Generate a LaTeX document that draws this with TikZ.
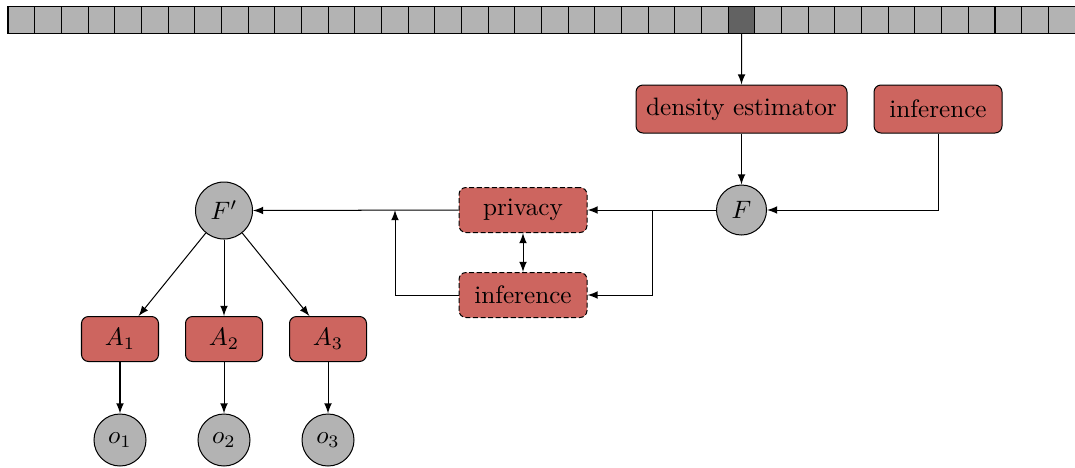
\documentclass[tikz,border=0pt]{standalone}
\usetikzlibrary{arrows}
\newdimen\pxu
\pxu=0.397pt
\definecolor{boxred}{RGB}{205,101,95}
\definecolor{cellgray}{RGB}{179,179,179}
\definecolor{celldark}{RGB}{98,98,98}
\begin{document}
\begin{tikzpicture}[x=\pxu,y=-\pxu,
  cellbox/.style={draw=black,fill=cellgray,inner sep=0pt,
    minimum width=26.675\pxu,minimum height=26.5\pxu},
  procbox/.style={draw=black,fill=boxred,rounded corners=7\pxu,
    inner sep=0pt,minimum height=48\pxu},
  dashbox/.style={procbox,dash pattern=on 2pt off 1pt,minimum height=45\pxu},
  abox/.style={procbox,minimum width=77\pxu,minimum height=45\pxu},
  var/.style={draw=black,fill=cellgray,circle,inner sep=0pt},
  flow/.style={-latex},
]
\useasboundingbox (0,0) rectangle (1075,467);

% memory strip of 40 cells, one highlighted
\foreach \i in {0,...,39}{
  \node[cellbox] (cell\i) at ({8+13.3375+\i*26.675},19.75) {};
}
\node[cellbox,fill=celldark] (cell27) at ({8+13.3375+27*26.675},19.75) {};

% upper processing row
\node[procbox,minimum width=211\pxu] (dens) at (741.5,109) {density estimator};
\node[procbox,minimum width=128\pxu] (inftop) at (938,109) {inference};
\node[var,minimum size=50\pxu] (F) at (741.5,210) {$F$};

% privacy / inference pair
\node[dashbox,minimum width=128\pxu] (priv) at (523,210) {privacy};
\node[dashbox,minimum width=128\pxu] (infmid) at (523,295) {inference};

% released variable and downstream consumers
\node[var,minimum size=57\pxu] (Fp) at (224,210.5) {$F'$};
\node[abox] (A1) at (120,339) {$A_1$};
\node[abox] (A2) at (224,339) {$A_2$};
\node[abox] (A3) at (328,339) {$A_3$};
\node[var,minimum size=52\pxu] (o1) at (120,440) {$o_1$};
\node[var,minimum size=52\pxu] (o2) at (224,440) {$o_2$};
\node[var,minimum size=52\pxu] (o3) at (328,440) {$o_3$};

\coordinate (split) at (652,210);
\coordinate (merge) at (395,210);

% connectors
\draw[flow] (cell27.south) -- (dens.north);
\draw[flow] (dens.south) -- (F.north);
\draw[flow] (inftop.south) |- (F.east);
\draw[flow] (F.west) -- (priv.east);
\draw[flow] (split) |- (infmid.east);
\draw[latex-latex] (priv.south) -- (infmid.north);
\draw[flow] (priv.west) -- (Fp.east);
\draw[flow] (infmid.west) -| (merge);
\draw[flow] (Fp) -- (A1);
\draw[flow] (Fp) -- (A2);
\draw[flow] (Fp) -- (A3);
\draw[flow] (A1) -- (o1);
\draw[flow] (A2) -- (o2);
\draw[flow] (A3) -- (o3);
\end{tikzpicture}
\end{document}
